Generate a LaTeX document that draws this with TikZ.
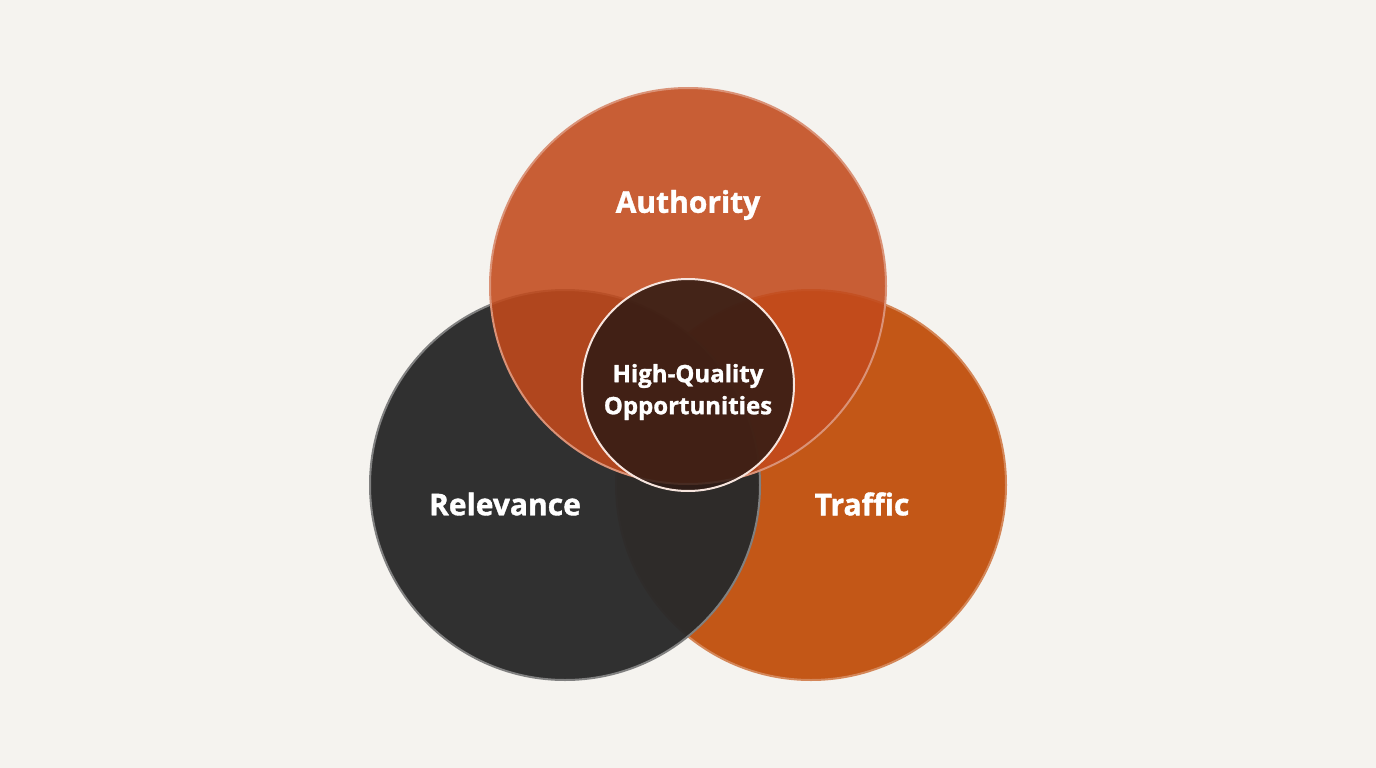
\documentclass[tikz,border=0pt]{standalone}
\usepackage{fontspec}
\setmainfont{Open Sans}[FakeBold=1.2]
\definecolor{bg}{HTML}{F5F3EF}
\definecolor{auth}{HTML}{C24A1C}
\definecolor{traf}{HTML}{C25211}
\definecolor{rel}{HTML}{2A2A2A}
\definecolor{core}{HTML}{2E1A14}
\begin{document}
\begin{tikzpicture}[x=1pt,y=-1pt,
  lbl/.style={text=white,font=\bfseries\fontsize{30}{34}\selectfont},
  ring/.style={line width=2pt}]
\fill[bg] (0,0) rectangle (1376,768);
\useasboundingbox (0,0) rectangle (1376,768);
\fill[traf,fill opacity=0.97] (811,485) circle (195);
\draw[ring,draw=traf!70!white] (811,485) circle (195);
\fill[rel,fill opacity=0.97] (565,485) circle (195);
\draw[ring,draw=gray] (565,485) circle (195);
\fill[auth,fill opacity=0.88] (688,286) circle (198);
\draw[ring,draw=auth!60!white] (688,286) circle (198);
\fill[core,fill opacity=0.85] (688,385) circle (106);
\draw[ring,draw=white!85!auth] (688,385) circle (106);
\node[lbl] (a) at (688,205) {Authority};
\node[lbl] (r) at (505,504) {Relevance};
\node[lbl] (t) at (862,504) {Traffic};
\node[text=white,align=center,font=\bfseries\fontsize{24}{32}\selectfont] (c) at (688,392) {High-Quality\\Opportunities};
\end{tikzpicture}
\end{document}
